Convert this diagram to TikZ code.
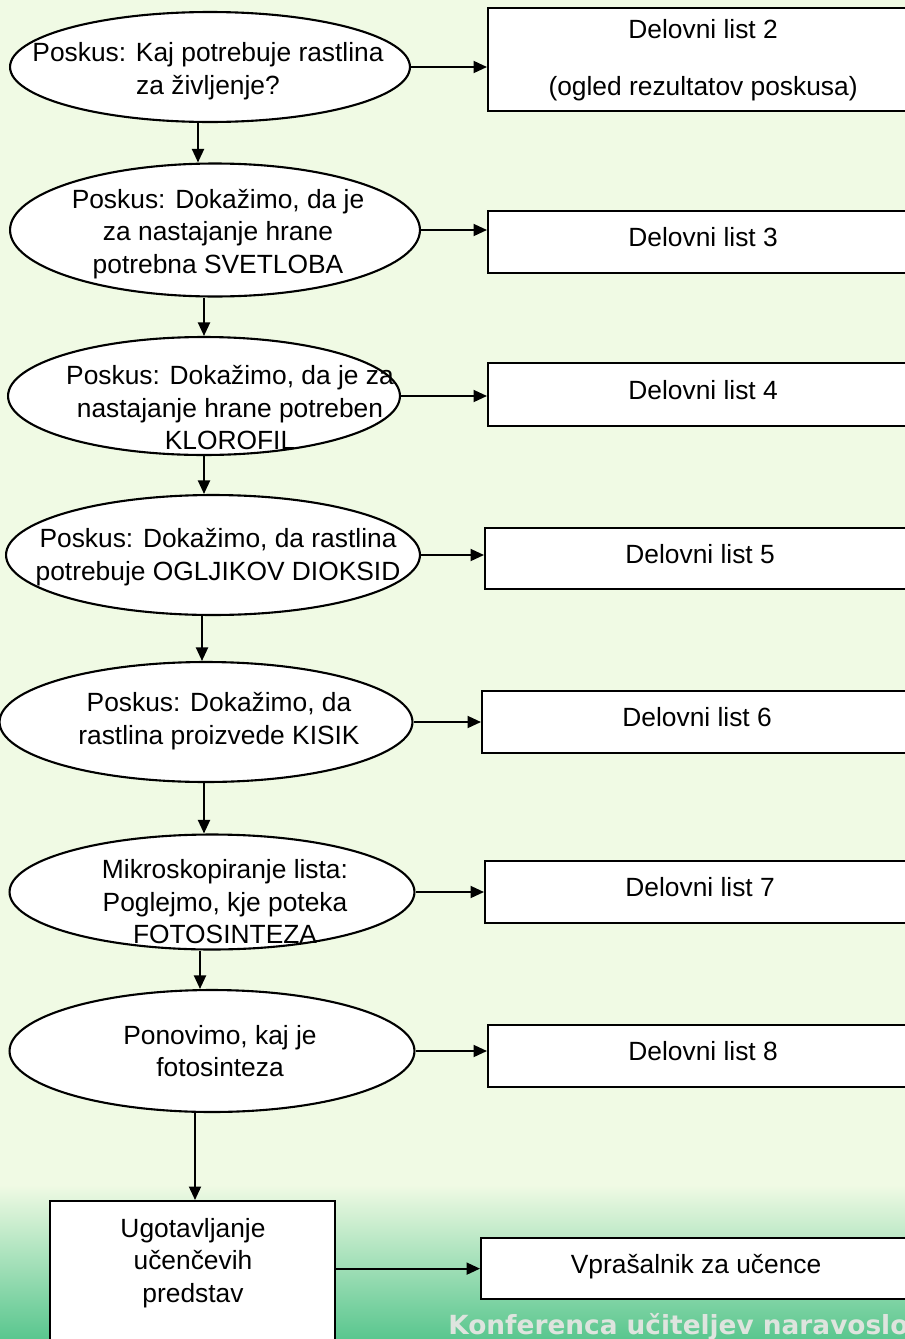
\documentclass[tikz,border=0pt]{standalone}
\usepackage{fontspec}
\setmainfont{Liberation Sans}
\newfontfamily\wmfont{DejaVu Sans}
\usetikzlibrary{shapes.geometric,arrows.meta}
\definecolor{bgg}{RGB}{240,250,228}
\definecolor{botg}{RGB}{88,198,142}
\definecolor{wmc}{RGB}{222,228,222}
\begin{document}
\begin{tikzpicture}[x=0.02cm,y=-0.02cm,>={Triangle[length=0.27cm,width=0.24cm]},
 ell/.style={draw,ellipse,fill=white,line width=1.2pt,inner sep=0pt},
 lst/.style={draw,rectangle,fill=white,line width=1.3pt,minimum width=8.6cm,anchor=north west,
 align=center,text depth=0.2cm,font=\fontsize{15}{18.5}\selectfont},
 txt/.style={align=center,font=\fontsize{15}{18.5}\selectfont},
 con/.style={->,line width=1.1pt}]
 \useasboundingbox (0,0) rectangle (905,1339);
 \clip (0,0) rectangle (905,1339);
 \fill[bgg] (0,0) rectangle (905,1339);
 \shade[top color=bgg,bottom color=botg] (0,1185) rectangle (905,1340);
 \node[ell,minimum width=8cm,minimum height=2.2cm] (e1) at (210,67) {};
 \node[txt] (t1) at (208,71) {Poskus: Kaj potrebuje rastlina\\za življenje?};
 \node[ell,minimum width=8.2cm,minimum height=2.66cm] (e2) at (215,230) {};
 \node[txt] (t2) at (218,234) {Poskus: Dokažimo, da je\\za nastajanje hrane\\potrebna SVETLOBA};
 \node[ell,minimum width=7.84cm,minimum height=2.36cm] (e3) at (204,396) {};
 \node[txt] (t3) at (230,408) {Poskus: Dokažimo, da je za\\nastajanje hrane potreben\\KLOROFIL};
 \node[ell,minimum width=8.28cm,minimum height=2.4cm] (e4) at (213,555) {};
 \node[txt] (t4) at (218,557) {Poskus: Dokažimo, da rastlina\\potrebuje OGLJIKOV DIOKSID};
 \node[ell,minimum width=8.26cm,minimum height=2.4cm] (e5) at (206,722) {};
 \node[txt] (t5) at (219,721) {Poskus: Dokažimo, da\\rastlina proizvede KISIK};
 \node[ell,minimum width=8.1cm,minimum height=2.3cm] (e6) at (212,892) {};
 \node[txt] (t6) at (225,902) {Mikroskopiranje lista:\\Poglejmo, kje poteka\\FOTOSINTEZA};
 \node[ell,minimum width=8.1cm,minimum height=2.44cm] (e7) at (212,1051) {};
 \node[txt] (t7) at (220,1051) {Ponovimo, kaj je\\fotosinteza};
 \node[draw,fill=white,line width=1.3pt,minimum width=5.7cm,minimum height=2.9cm,anchor=north] (b8) at (192.5,1200) {};
 \node[txt] (t8) at (193,1263) {Ugotavljanje\\učenčevih\\predstav};
 \node[lst,minimum height=2.06cm,text depth=0.08cm] (b1) at (487,7) {Delovni list 2\\[0.49cm](ogled rezultatov poskusa)};
 \node[lst,minimum height=1.24cm] (b2) at (487,210) {Delovni list 3};
 \node[lst,minimum height=1.26cm] (b3) at (487,362) {Delovni list 4};
 \node[lst,minimum height=1.22cm] (b4) at (484,527) {Delovni list 5};
 \node[lst,minimum height=1.24cm] (b5) at (481,690) {Delovni list 6};
 \node[lst,minimum height=1.24cm] (b6) at (484,860) {Delovni list 7};
 \node[lst,minimum height=1.24cm] (b7) at (487,1024) {Delovni list 8};
 \node[lst,minimum height=1.22cm] (b9) at (480,1237) {Vprašalnik za učence};
 \draw[con] ([xshift=-0.24cm]e1.south) -- ([xshift=-0.24cm]e1.south |- e2.north);
 \draw[con] ([xshift=-0.22cm]e2.south) -- ([xshift=-0.22cm]e2.south |- e3.north);
 \draw[con] (e3.south) -- (e3.south |- e4.north);
 \draw[con] ([xshift=-0.22cm]e4.south) -- ([xshift=-0.22cm]e4.south |- e5.north);
 \draw[con] ([xshift=-0.04cm]e5.south) -- ([xshift=-0.04cm]e5.south |- e6.north);
 \draw[con] ([xshift=-0.24cm]e6.south) -- ([xshift=-0.24cm]e6.south |- e7.north);
 \draw[con] ([xshift=-0.34cm]e7.south) -- ([xshift=-0.34cm]e7.south |- b8.north);
 \draw[con] (e1.east) -- (e1.east -| b1.west);
 \draw[con] (e2.east) -- (e2.east -| b2.west);
 \draw[con] (e3.east) -- (e3.east -| b3.west);
 \draw[con] (e4.east) -- (e4.east -| b4.west);
 \draw[con] (e5.east) -- (e5.east -| b5.west);
 \draw[con] (e6.east) -- (e6.east -| b6.west);
 \draw[con] (e7.east) -- (e7.east -| b7.west);
 \draw[con] (b9.west -| b8.east) -- (b9.west);
 \node[anchor=base west,inner sep=0pt,text=wmc,font=\wmfont\bfseries\fontsize{15}{16}\selectfont] (wm) at (448,1334) {Konferenca učiteljev naravoslo};
\end{tikzpicture}
\end{document}
